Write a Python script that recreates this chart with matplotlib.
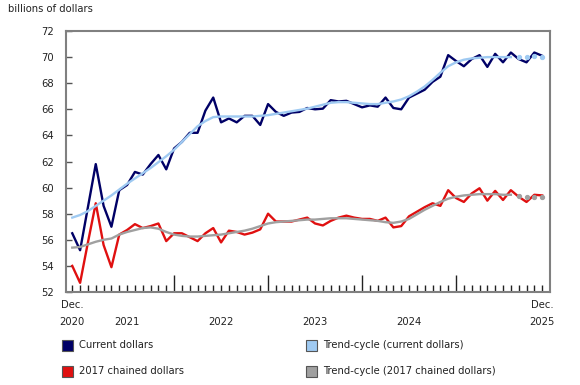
import matplotlib
matplotlib.use("Agg")
import matplotlib.pyplot as plt
from matplotlib.patches import Rectangle
import matplotlib.transforms as mtransforms

# ---- data (monthly, Dec 2020 .. Dec 2025) ----
current = [56.5, 55.2, 58.5, 61.8, 58.6, 57.0, 59.8, 60.2, 61.2, 61.0,
           61.8, 62.5, 61.4, 63.0, 63.5, 64.2, 64.2, 65.9, 66.9, 65.0,
           65.3, 65.0, 65.5, 65.5, 64.8, 66.4, 65.8, 65.5, 65.75, 65.8,
           66.1, 66.0, 66.05, 66.7, 66.6, 66.65, 66.4, 66.15, 66.3, 66.2,
           66.9, 66.1, 66.0, 66.9, 67.2, 67.5, 68.1, 68.5, 70.15, 69.7,
           69.3, 69.85, 70.15, 69.25, 70.25, 69.6, 70.35, 69.85, 69.6, 70.35,
           70.1]
trend_current = [57.7, 57.9, 58.2, 58.6, 59.0, 59.4, 59.85, 60.3, 60.7, 61.1,
                 61.5, 61.95, 62.4, 62.9, 63.5, 64.1, 64.7, 65.1, 65.4, 65.45,
                 65.45, 65.45, 65.45, 65.45, 65.5, 65.55, 65.65, 65.75, 65.85, 65.95,
                 66.05, 66.2, 66.35, 66.5, 66.55, 66.55, 66.5, 66.45, 66.4, 66.4,
                 66.5, 66.6, 66.75, 67.0, 67.35, 67.75, 68.25, 68.8, 69.3, 69.6,
                 69.8, 69.9, 69.95, 70.0, 70.0, 70.0, 70.0, 70.0, 70.0, 70.05,
                 70.0]
chained = [54.0, 52.7, 55.8, 58.8, 55.6, 53.9, 56.4, 56.75, 57.2, 56.9,
           57.05, 57.25, 55.9, 56.5, 56.5, 56.2, 55.9, 56.5, 56.9, 55.8,
           56.7, 56.6, 56.4, 56.55, 56.8, 58.0, 57.4, 57.4, 57.4, 57.55,
           57.7, 57.25, 57.1, 57.45, 57.7, 57.85, 57.7, 57.6, 57.6, 57.45,
           57.7, 56.95, 57.05, 57.8, 58.15, 58.5, 58.8, 58.6, 59.8, 59.2,
           58.9, 59.55, 59.95, 59.0, 59.75, 59.05, 59.8, 59.3, 58.9, 59.45,
           59.4]
trend_chained = [55.4, 55.45, 55.65, 55.85, 56.0, 56.1, 56.4, 56.6, 56.75, 56.9,
                 56.95, 56.85, 56.6, 56.4, 56.3, 56.25, 56.25, 56.3, 56.35, 56.4,
                 56.5, 56.6, 56.7, 56.85, 57.05, 57.25, 57.35, 57.4, 57.45, 57.5,
                 57.55, 57.55, 57.6, 57.65, 57.65, 57.65, 57.6, 57.55, 57.5, 57.45,
                 57.35, 57.3, 57.4, 57.6, 57.95, 58.3, 58.6, 58.9, 59.15, 59.3,
                 59.4, 59.45, 59.5, 59.5, 59.5, 59.45, 59.45, 59.35, 59.3, 59.3,
                 59.3]
n_solid_trend = 57   # trend drawn solid up to this many points, dotted after

year_labels = ["2021", "2022", "2023", "2024"]
year_label_pos = [7, 19, 31, 43]
major_tick_pos = [13, 25, 37, 49]
yticks = [52, 54, 56, 58, 60, 62, 64, 66, 68, 70, 72]
legend_labels = ["Current dollars", "Trend-cycle (current dollars)",
                 "2017 chained dollars", "Trend-cycle (2017 chained dollars)"]

c_cur = "#000066"
c_tcur = "#9fcaf2"
c_ch = "#e01010"
c_tch = "#a0a0a0"

fig = plt.figure(figsize=(5.8, 3.85), dpi=100)
ax = fig.add_axes([66/580, 1-292/385, (550-66)/580, (292-31)/385])

x = list(range(len(current)))
lw = 1.7
ax.plot(x, current, color=c_cur, lw=lw, zorder=3)
ax.plot(x, chained, color=c_ch, lw=lw, zorder=3)
xs = x[:n_solid_trend]
ax.plot(xs, trend_current[:n_solid_trend], color=c_tcur, lw=lw, zorder=4)
ax.plot(xs, trend_chained[:n_solid_trend], color=c_tch, lw=lw, zorder=4)
xd = x[n_solid_trend:]
ax.plot(xd, trend_current[n_solid_trend:], ls="none", marker="o", ms=2.8,
        mfc=c_tcur, mec=c_tcur, zorder=4)
ax.plot(xd, trend_chained[n_solid_trend:], ls="none", marker="o", ms=2.8,
        mfc=c_tch, mec=c_tch, zorder=4)

ax.set_xlim(-0.8, 61.0)
ax.set_ylim(52, 72)
ax.set_yticks(yticks)
fs = 7.2
ax.set_yticklabels([str(v) for v in yticks], fontsize=fs, color="#222222")
ax.tick_params(axis="y", direction="in", length=4, width=1, color="#555555", pad=9)

minor = [i for i in x if i not in major_tick_pos]
ax.set_xticks(major_tick_pos)
ax.set_xticks(minor, minor=True)
ax.set_xticklabels([])
ax.tick_params(axis="x", which="major", direction="in", length=12, width=1, color="#222222")
ax.tick_params(axis="x", which="minor", direction="in", length=5, width=1, color="#222222")

for s in ax.spines.values():
    s.set_color("#808080")
    s.set_linewidth(1.5)

trans = mtransforms.blended_transform_factory(ax.transData, fig.transFigure)
ty1 = 1 - 305/385
ty2 = 1 - 322/385
ax.text(0, ty1, "Dec.", transform=trans, ha="center", va="center", fontsize=fs, color="#222222")
ax.text(0, ty2, "2020", transform=trans, ha="center", va="center", fontsize=fs, color="#222222")
ax.text(60, ty1, "Dec.", transform=trans, ha="center", va="center", fontsize=fs, color="#222222")
ax.text(60, ty2, "2025", transform=trans, ha="center", va="center", fontsize=fs, color="#222222")
for lab, p in zip(year_labels, year_label_pos):
    ax.text(p, ty2, lab, transform=trans, ha="center", va="center", fontsize=fs, color="#222222")

fig.text(8/580, 1-9/385, "billions of dollars", fontsize=fs, ha="left", va="center", color="#222222")

# legend
cols = [c_cur, c_tcur, c_ch, c_tch]
pos = [(62, 345), (306, 345), (62, 371), (306, 371)]
for (px, py), col, lab in zip(pos, cols, legend_labels):
    fig.patches.append(Rectangle((px/580, 1-(py+5.5)/385), 11/580, 11/385,
                                 transform=fig.transFigure, facecolor=col,
                                 edgecolor="#555555", lw=0.8))
    fig.text((px+17)/580, 1-py/385, lab, fontsize=fs, ha="left", va="center", color="#222222")

fig.savefig("out.png", dpi=100)
